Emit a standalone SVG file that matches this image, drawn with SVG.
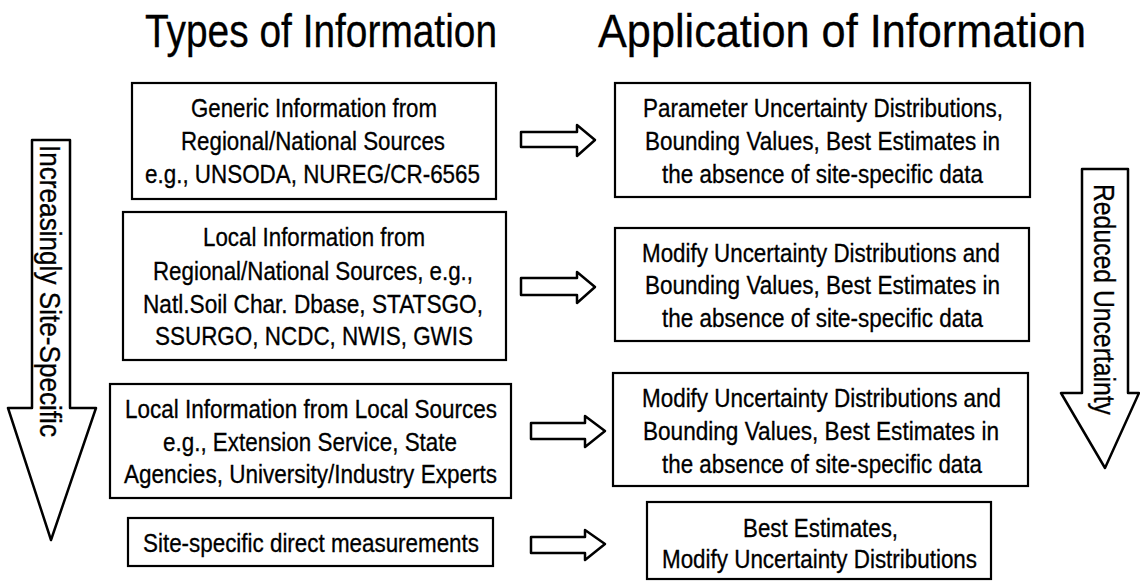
<svg xmlns="http://www.w3.org/2000/svg" width="1140" height="582" viewBox="0 0 1140 582">
  <style>
    .box { fill: #fff; stroke: #000; stroke-width: 2.2; }
    .t { font-family: "Liberation Sans", Arial, sans-serif; font-size: 25px; fill: #000; stroke: #000; stroke-width: 0.3; }
    .title { font-family: "Liberation Sans", Arial, sans-serif; font-size: 46px; fill: #000; stroke: #000; stroke-width: 0.3; }
    .vt { font-family: "Liberation Sans", Arial, sans-serif; font-size: 29px; fill: #000; stroke: #000; stroke-width: 0.3; }
    .arrow { fill: #fff; stroke: #000; stroke-width: 2.5; stroke-linejoin: round; }
  </style>
  <rect width="1140" height="582" fill="#fff"/>

  <g id="titles">
    <text class="title" x="145" y="47" textLength="352" lengthAdjust="spacingAndGlyphs">Types of Information</text>
    <text class="title" x="598" y="47" textLength="488" lengthAdjust="spacingAndGlyphs">Application of Information</text>
  </g>

  <g id="left-arrow">
    <polygon class="arrow" points="32,140 70,140 70,408 96,408 51,540 8,408 32,408"/>
    <text class="vt" transform="translate(40,145) rotate(90)" textLength="292" lengthAdjust="spacingAndGlyphs">Increasingly Site-Specific</text>
  </g>

  <g id="right-arrow">
    <polygon class="arrow" points="1082,169 1128,169 1128,393 1139,393 1105,468 1061,393 1082,393"/>
    <text class="vt" transform="translate(1094,184) rotate(90)" textLength="231" lengthAdjust="spacingAndGlyphs">Reduced Uncertainty</text>
  </g>

  <g id="type-generic">
    <rect class="box" x="132" y="83" width="364" height="116"/>
    <text class="t" x="191" y="117" textLength="246" lengthAdjust="spacingAndGlyphs">Generic Information from</text>
    <text class="t" x="181" y="150" textLength="264" lengthAdjust="spacingAndGlyphs">Regional/National Sources</text>
    <text class="t" x="145" y="183" textLength="335" lengthAdjust="spacingAndGlyphs">e.g., UNSODA, NUREG/CR-6565</text>
  </g>

  <g id="type-local-regional">
    <rect class="box" x="123" y="212" width="383" height="148"/>
    <text class="t" x="203" y="246" textLength="222" lengthAdjust="spacingAndGlyphs">Local Information from</text>
    <text class="t" x="153" y="280" textLength="320" lengthAdjust="spacingAndGlyphs">Regional/National Sources, e.g.,</text>
    <text class="t" x="143" y="313" textLength="340" lengthAdjust="spacingAndGlyphs">Natl.Soil Char. Dbase, STATSGO,</text>
    <text class="t" x="155" y="345" textLength="318" lengthAdjust="spacingAndGlyphs">SSURGO, NCDC, NWIS, GWIS</text>
  </g>

  <g id="type-local-local">
    <rect class="box" x="110" y="384" width="401" height="114"/>
    <text class="t" x="125" y="418" textLength="372" lengthAdjust="spacingAndGlyphs">Local Information from Local Sources</text>
    <text class="t" x="163" y="451" textLength="294" lengthAdjust="spacingAndGlyphs">e.g., Extension Service, State</text>
    <text class="t" x="124" y="483" textLength="373" lengthAdjust="spacingAndGlyphs">Agencies, University/Industry Experts</text>
  </g>

  <g id="type-site">
    <rect class="box" x="128" y="518" width="365" height="48"/>
    <text class="t" x="143" y="552" textLength="336" lengthAdjust="spacingAndGlyphs">Site-specific direct measurements</text>
  </g>

  <g id="app-generic">
    <rect class="box" x="615" y="83" width="415" height="114"/>
    <text class="t" x="643" y="117" textLength="360" lengthAdjust="spacingAndGlyphs">Parameter Uncertainty Distributions,</text>
    <text class="t" x="645" y="150" textLength="355" lengthAdjust="spacingAndGlyphs">Bounding Values, Best Estimates in</text>
    <text class="t" x="662" y="183" textLength="321" lengthAdjust="spacingAndGlyphs">the absence of site-specific data</text>
  </g>

  <g id="app-local-regional">
    <rect class="box" x="615" y="228" width="414" height="113"/>
    <text class="t" x="642" y="262" textLength="358" lengthAdjust="spacingAndGlyphs">Modify Uncertainty Distributions and</text>
    <text class="t" x="645" y="294" textLength="355" lengthAdjust="spacingAndGlyphs">Bounding Values, Best Estimates in</text>
    <text class="t" x="662" y="327" textLength="321" lengthAdjust="spacingAndGlyphs">the absence of site-specific data</text>
  </g>

  <g id="app-local-local">
    <rect class="box" x="613" y="373" width="415" height="113"/>
    <text class="t" x="642" y="407" textLength="359" lengthAdjust="spacingAndGlyphs">Modify Uncertainty Distributions and</text>
    <text class="t" x="643" y="440" textLength="356" lengthAdjust="spacingAndGlyphs">Bounding Values, Best Estimates in</text>
    <text class="t" x="662" y="473" textLength="320" lengthAdjust="spacingAndGlyphs">the absence of site-specific data</text>
  </g>

  <g id="app-site">
    <rect class="box" x="647" y="502" width="344" height="77"/>
    <text class="t" x="743" y="537" textLength="155" lengthAdjust="spacingAndGlyphs">Best Estimates,</text>
    <text class="t" x="662" y="568" textLength="315" lengthAdjust="spacingAndGlyphs">Modify Uncertainty Distributions</text>
  </g>

  <g id="connectors">
    <polygon class="arrow" points="521,132 577,132 577,125 595,140 577,156 577,147 521,147"/>
    <polygon class="arrow" points="521,278 577,278 577,272 595,287 577,303 577,295 521,295"/>
    <polygon class="arrow" points="531,423 585,423 585,416 605,431 585,447 585,439 531,439"/>
    <polygon class="arrow" points="531,537 585,537 585,530 605,544 585,560 585,553 531,553"/>
  </g>
</svg>
